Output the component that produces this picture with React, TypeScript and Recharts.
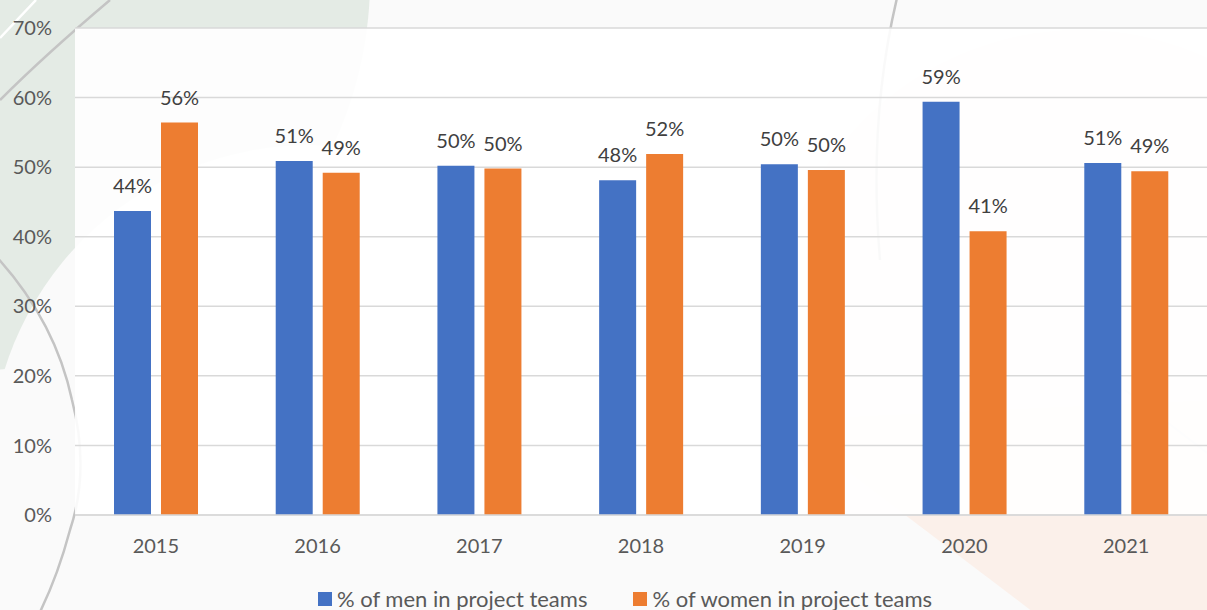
import { Bar, BarChart, CartesianGrid, LabelList, Legend, XAxis, YAxis } from 'recharts';

const years = ['2015', '2016', '2017', '2018', '2019', '2020', '2021'];
const menPct = [43.7, 50.9, 50.2, 48.1, 50.4, 59.4, 50.6];
const womenPct = [56.4, 49.2, 49.8, 51.9, 49.6, 40.8, 49.4];
const yTicks = [0, 10, 20, 30, 40, 50, 60, 70];

const BLUE = '#4472c4';
const ORANGE = '#ed7d31';
const FONT = 'Lato, "Open Sans", sans-serif';

const data = years.map((year, i) => ({ year, men: menPct[i], women: womenPct[i] }));

const legendItems = [
  { label: '% of men in project teams', color: BLUE },
  { label: '% of women in project teams', color: ORANGE },
];

const ChartLegend = () => (
  <div
    style={{
      display: 'flex',
      justifyContent: 'center',
      gap: 46,
      paddingLeft: 43,
      paddingTop: 7,
      height: 30,
      boxSizing: 'border-box',
      fontFamily: FONT,
      fontSize: 22,
      lineHeight: '22px',
      color: '#595959',
      whiteSpace: 'nowrap',
    }}
  >
    {legendItems.map((it) => (
      <div key={it.label} style={{ display: 'flex', alignItems: 'center' }}>
        <span style={{ width: 14, height: 14, background: it.color, marginRight: 5, display: 'inline-block' }} />
        <span>{it.label}</span>
      </div>
    ))}
  </div>
);

// soft background shapes behind the chart
const Backdrop = () => (
  <svg width={1207} height={610} style={{ position: 'absolute', left: 0, top: 0 }}>
    <rect width={1207} height={610} fill="#fafafa" />
    <circle cx={-20} cy={-20} r={390} fill="#e4ebe5" />
    <circle cx={310} cy={465} r={320} fill="#fafafa" />
    <circle cx={1080} cy={335} r={305} fill="#fbf0ea" opacity={0.6} />
    <rect x={0} y={516} width={1207} height={94} fill="#fafafa" />
    <polygon points="780,420 1033,612 1210,612 1210,400" fill="#fbf0ea" />
    <path d="M 0 38 L 36 0" stroke="#ffffff" strokeWidth={2.5} fill="none" />
    <path d="M 0 100 Q 45 55 110 0" stroke="#c4c4c4" strokeWidth={2.5} fill="none" />
    <path d="M -5 255 Q 55 320 72 400 Q 90 470 70 530 Q 58 575 40 612" stroke="#c4c4c4" strokeWidth={2.5} fill="none" />
    <path d="M 897 -2 Q 868 120 880 260" stroke="#c4c4c4" strokeWidth={2.5} fill="none" />
    <path d="M 1125 390 L 1210 455" stroke="#e6e6e6" strokeWidth={2} fill="none" />
  </svg>
);

export default function App() {
  return (
    <div style={{ position: 'absolute', left: 0, top: 0, width: 1207, height: 610, overflow: 'hidden' }}>
      <Backdrop />
      <div style={{ position: 'absolute', left: 0, top: 0 }}>
        <BarChart
          width={1207}
          height={610}
          data={data}
          margin={{ top: 28, right: 0, bottom: 0, left: 0 }}
          barSize={37}
          barGap={10}
          style={{ fontFamily: FONT }}
        >
          <CartesianGrid vertical={false} stroke="#d9d9d9" strokeWidth={1.5} fill="#ffffff" fillOpacity={0.9} />
          <XAxis
            dataKey="year"
            height={65}
            tickLine={false}
            axisLine={{ stroke: '#d9d9d9', strokeWidth: 1.5 }}
            tickMargin={18}
            tick={{ fill: '#595959', fontSize: 20 }}
          />
          <YAxis
            width={75}
            domain={[0, 70]}
            ticks={yTicks}
            tickFormatter={(v) => `${v}%`}
            axisLine={false}
            tickLine={false}
            tickMargin={17}
            tick={{ fill: '#595959', fontSize: 20 }}
          />
          <Legend verticalAlign="bottom" height={30} content={() => <ChartLegend />} />
          <Bar dataKey="men" fill={BLUE} isAnimationActive={false}>
            <LabelList dataKey="men" position="top" offset={18} fill="#404040" fontSize={20} formatter={(v: number) => `${Math.round(v)}%`} />
          </Bar>
          <Bar dataKey="women" fill={ORANGE} isAnimationActive={false}>
            <LabelList dataKey="women" position="top" offset={18} fill="#404040" fontSize={20} formatter={(v: number) => `${Math.round(v)}%`} />
          </Bar>
        </BarChart>
      </div>
    </div>
  );
}
